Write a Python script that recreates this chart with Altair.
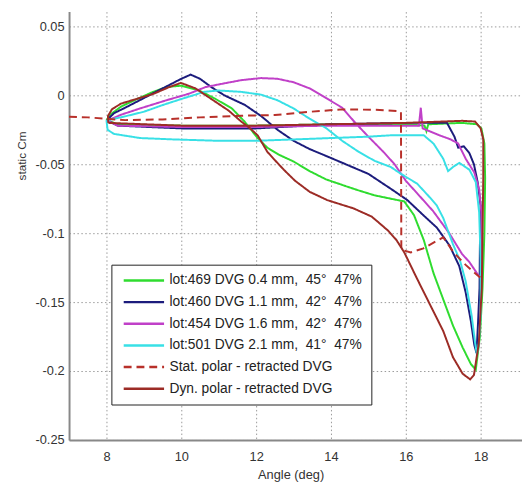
import altair as alt
import pandas as pd

names = [
    "lot:469 DVG 0.4 mm,\u00a0 45°\u00a0 47%",
    "lot:460 DVG 1.1 mm,\u00a0 42°\u00a0 47%",
    "lot:454 DVG 1.6 mm,\u00a0 42°\u00a0 47%",
    "lot:501 DVG 2.1 mm,\u00a0 41°\u00a0 47%",
    "Stat. polar - retracted DVG",
    "Dyn. polar - retracted DVG",
]
colors = ["#2fdc2f", "#1c1c7c", "#c040c8", "#38e0e6", "#b8302a", "#9c2c26"]
dashes = [[1, 0], [1, 0], [1, 0], [1, 0], [8, 5], [1, 0]]

# lot:469 (green)
green_x = [8.0, 8.3, 10, 12, 14, 16, 16.5, 16.55, 16.6, 17.5, 17.9, 18.02, 18.1, 18.12, 18.1, 18.05, 17.98, 17.87,
           17.74, 17.52, 17.26, 17.0, 16.74, 16.48, 16.22, 15.96, 15.6, 15.17, 14.74, 14.3, 13.87, 13.43, 13.0, 12.6,
           12.3, 12.04, 11.69, 11.35, 10.9, 10.47, 10.0, 9.6, 9.2, 8.8, 8.4, 8.1, 8.0]
green_y = [-0.018, -0.021, -0.022, -0.022, -0.021, -0.021, -0.022, -0.026, -0.021, -0.020, -0.021, -0.024, -0.035,
           -0.060, -0.100, -0.140, -0.175, -0.199,
           -0.195, -0.183, -0.167, -0.148, -0.129, -0.105, -0.087, -0.077, -0.075, -0.0726, -0.069, -0.065, -0.061,
           -0.055, -0.048, -0.043, -0.038, -0.031, -0.019, -0.0095, -0.0024, 0.0036, 0.007, 0.006, 0.002, -0.003,
           -0.008, -0.014, -0.018]

# lot:460 (navy)
navy_x = [8.0, 8.3, 10, 12, 14, 16, 17.1, 17.3, 17.4, 17.55, 17.7, 17.82, 17.92, 18.0, 17.98, 17.97, 17.93, 17.89,
          17.83, 17.74, 17.6, 17.43, 17.17, 16.83, 16.47, 16.04, 15.61, 15.0, 14.48, 13.96, 13.43, 13.0, 12.57,
          12.13, 11.7, 11.15, 10.8, 10.5, 10.25, 10.0, 9.5, 9.0, 8.5, 8.2, 8.05]
navy_y = [-0.018, -0.022, -0.024, -0.024, -0.021, -0.020, -0.020, -0.030, -0.038, -0.037, -0.042, -0.050, -0.063,
          -0.080, -0.110, -0.140, -0.165, -0.187,
          -0.181, -0.164, -0.143, -0.124, -0.109, -0.096, -0.087, -0.076, -0.068, -0.057, -0.051, -0.045, -0.039,
          -0.033, -0.025, -0.015, -0.007, 0.0, 0.006, 0.012, 0.015, 0.012, 0.005, -0.002, -0.009, -0.013, -0.017]

# lot:454 (magenta)
mag_x = [8.0, 8.3, 10, 12, 14, 16, 16.35, 16.4, 16.45, 16.9, 17.2, 17.4, 17.6, 17.83, 17.96, 18.02, 18.03, 18.02,
         17.9, 17.7, 17.5, 17.16, 16.73, 16.3, 16.0, 15.7, 15.4, 15.0, 14.65, 14.3, 13.87, 13.43, 13.0, 12.57,
         12.13, 11.6, 11.08, 10.65, 10.21, 9.6, 8.9, 8.4, 8.05]
mag_y = [-0.018, -0.022, -0.023, -0.023, -0.022, -0.022, -0.022, -0.009, -0.024, -0.029, -0.032, -0.035, -0.046,
         -0.056, -0.068, -0.085, -0.110, -0.133,
         -0.129, -0.121, -0.115, -0.100, -0.084, -0.071, -0.062, -0.050, -0.041, -0.030, -0.020, -0.009, -0.002,
         0.005, 0.0095, 0.012, 0.0125, 0.011, 0.0083, 0.006, 0.0012, -0.0036, -0.0095, -0.014, -0.018]

# lot:501 (cyan)
cyan_x = [8.0, 8.03, 8.2, 8.9, 9.8, 11, 12, 13, 14, 15, 15.6, 16.48, 16.74, 17.0, 17.13, 17.26, 17.43, 17.7, 17.87,
          17.96, 18.0, 18.0, 17.95, 17.9,
          17.85, 17.76, 17.6, 17.45, 17.26, 17.0, 16.83, 16.64, 16.3, 15.87, 15.6, 15.17, 14.74, 14.3, 13.87,
          13.43, 13.0, 12.57, 12.13, 11.6, 11.0, 10.6, 10.38, 10.03, 9.51, 8.99, 8.46, 8.05]
cyan_y = [-0.018, -0.025, -0.028, -0.031, -0.032, -0.033, -0.033, -0.032, -0.031, -0.030, -0.029, -0.029, -0.035,
          -0.046, -0.055, -0.052, -0.049, -0.054, -0.063, -0.085, -0.120, -0.160, -0.180, -0.188,
          -0.179, -0.160, -0.135, -0.120, -0.108, -0.089, -0.080, -0.074, -0.064, -0.057, -0.052, -0.0476,
          -0.041, -0.033, -0.0238, -0.017, -0.0095, -0.0036, 0.0005, 0.0025, 0.0035, 0.0025, 0.0005, -0.0024,
          -0.007, -0.012, -0.0155, -0.018]

# Stat. polar (dashed)
stat_x = [7.0, 7.5, 8.0, 8.5, 9.5, 10.5, 11.6, 12.5, 13.4, 14.3, 15.2, 15.8, 15.87, 15.88, 16.13, 16.47, 17.0,
          17.28, 17.6, 18.02]
stat_y = [-0.0155, -0.016, -0.017, -0.018, -0.0175, -0.016, -0.0148, -0.0143, -0.012, -0.0102, -0.0105, -0.0115,
          -0.012, -0.112, -0.114, -0.111, -0.103, -0.114, -0.123, -0.133]

# Dyn. polar (solid dark red)
dyn_x = [8.05, 10, 12, 14, 16, 17.5, 17.85, 18.0, 18.07, 18.07, 18.05, 18.03, 17.95, 17.82, 17.72,
         17.52, 17.26, 17.0, 16.65, 16.3, 15.96, 15.75, 15.52, 15.09, 14.6, 14.13, 13.9, 13.43, 13.04, 12.74,
         12.5, 12.3, 12.04, 11.84, 11.6, 11.26, 10.82, 10.38, 9.99, 9.68, 9.25, 8.82, 8.39, 8.15, 8.04, 8.05]
dyn_y = [-0.020, -0.022, -0.022, -0.021, -0.020, -0.0185, -0.019, -0.024, -0.032, -0.060, -0.100, -0.140, -0.180,
         -0.203, -0.206,
         -0.202, -0.190, -0.171, -0.152, -0.133, -0.114, -0.105, -0.098, -0.088, -0.082, -0.078, -0.076, -0.070,
         -0.062, -0.054, -0.047, -0.041, -0.029, -0.024, -0.019, -0.011, -0.003, 0.005, 0.009, 0.006, 0.001,
         -0.0025, -0.006, -0.010, -0.015, -0.020]

x_ticks = [8, 10, 12, 14, 16, 18]
y_ticks = [-0.25, -0.2, -0.15, -0.1, -0.05, 0, 0.05]

all_x = [green_x, navy_x, mag_x, cyan_x, stat_x, dyn_x]
all_y = [green_y, navy_y, mag_y, cyan_y, stat_y, dyn_y]

rows = []
for name, xs, ys in zip(names, all_x, all_y):
    for i, (xv, yv) in enumerate(zip(xs, ys)):
        rows.append({"series": name, "x": xv, "y": yv, "idx": i})
df = pd.DataFrame(rows)

FONT = "Liberation Sans, Arial"

base = alt.Chart(df).mark_line(strokeWidth=2).encode(
    x=alt.X("x:Q", title="Angle (deg)",
            scale=alt.Scale(domain=[7, 19.105], nice=False, zero=False),
            axis=alt.Axis(values=x_ticks, titleX=225, titleY=35, titleBaseline="middle")),
    y=alt.Y("y:Q", title="static Cm",
            scale=alt.Scale(domain=[-0.25, 0.0607], nice=False, zero=False),
            axis=alt.Axis(values=y_ticks, titleX=-48, titleY=146, titleAlign="center",
                          titleBaseline="middle",
                          labelExpr="replace(format(datum.value, '~g'), '\u2212', '-')")),
    color=alt.Color("series:N", scale=alt.Scale(domain=names, range=colors), title=None),
    strokeDash=alt.StrokeDash("series:N", scale=alt.Scale(domain=names, range=dashes), title=None),
    order=alt.Order("idx:Q"),
)

layers = [base.transform_filter(alt.datum.series == n) for n in names]

chart = alt.layer(*layers).properties(
    width=460, height=435,
    autosize=alt.AutoSizeParams(type="none"),
    padding={"left": 62, "top": 0, "right": 0, "bottom": 39},
).configure_view(stroke=None).configure_axis(
    labelFont=FONT, labelFontSize=13, labelColor="#333",
    titleFont=FONT, titleFontSize=12, titleFontWeight="normal", titleColor="#333",
    domainColor="#888", domainWidth=2,
    ticks=False, tickSize=0,
    grid=True, gridColor="#999", gridDash=[1.5, 2.5], gridWidth=1,
).configure_axisX(labelPadding=11, titleFontSize=13).configure_axisY(labelPadding=5).configure_legend(
    orient="none", legendX=43, legendY=257,
    strokeColor="#222", fillColor="white", padding=9,
    symbolType="M-4,0H4", symbolSize=105, symbolStrokeWidth=2.5, symbolOffset=17,
    labelFont=FONT, labelFontSize=14, labelColor="#222", labelLimit=400, labelOffset=19,
    rowPadding=8, cornerRadius=0,
)

chart.save("out.html", embed_options={"renderer": "svg", "actions": False})
